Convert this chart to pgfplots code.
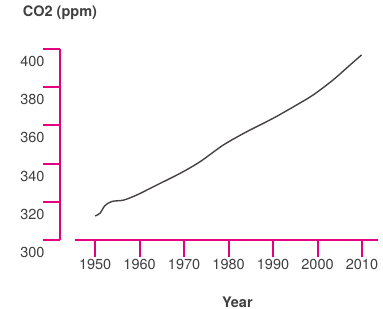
\documentclass[border=0pt]{standalone}
\usepackage{fontspec}
\setmainfont{TeX Gyre Heros}
\usepackage{pgfplots}
\pgfplotsset{compat=1.18}
\definecolor{mag}{RGB}{228,0,127}
\definecolor{txt}{RGB}{64,64,64}
\definecolor{crv}{RGB}{70,66,68}
\begin{document}
\begin{tikzpicture}
\useasboundingbox (-60bp,-69bp) rectangle (323bp,240bp);
\begin{axis}[
  at={(0,0)}, anchor=south west,
  scale only axis, width=318bp, height=191bp,
  xmin=1942.1, xmax=2013.6, ymin=300, ymax=400,
  axis lines*=left,
  axis line style={mag, line width=2bp},
  x axis line style={shorten <=15bp},
  xtick={1950,1960,...,2010}, ytick={300,320,...,400},
  tick align=outside, major tick length=17bp,
  tick style={mag, line width=2bp},
  font=\fontsize{14.5bp}{16bp}\selectfont\color{txt},
  /pgf/number format/assume math mode=true,
  /pgf/number format/1000 sep={},
  xticklabel style={anchor=center, yshift=-7bp},
  yticklabel style={anchor=east, xshift=5bp, yshift=-12.5bp},
  title={\bfseries CO2 (ppm)},
  title style={at={(axis description cs:0,1)}, anchor=center, yshift=30bp},
  xlabel={\bfseries Year},
  xlabel style={at={(axis description cs:0.558,0)}, anchor=center, yshift=-62bp},
]
\addplot[crv, line width=1.4bp, smooth, tension=0.5] coordinates {
(1950,312.6)(1951.1,314)(1952.2,318)(1953.8,320.2)(1956.4,320.9)(1959.4,323.6)
(1963.1,327.9)(1969.1,334.9)(1973.6,341)(1978.8,349.7)(1984.1,356.7)(1990,363.7)
(1995.3,370.7)(1999,375.9)(2003.5,383.8)(2007.3,391.6)(2009.9,396.9)
};
\end{axis}
\end{tikzpicture}
\end{document}
